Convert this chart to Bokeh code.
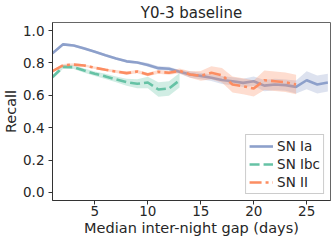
from bokeh.plotting import figure
from bokeh.models import Legend, LegendItem, FixedTicker, Range1d, CustomJSTickFormatter
from bokeh.embed import file_html
from bokeh.resources import INLINE

days = list(range(1, 28))

ia = [0.86, 0.915, 0.908, 0.89, 0.869, 0.848, 0.828, 0.81, 0.803, 0.788, 0.768, 0.764, 0.745,
      0.729, 0.72, 0.708, 0.695, 0.687, 0.677, 0.687, 0.66, 0.667, 0.663, 0.652, 0.693, 0.667, 0.679]
ia_err = [0.008, 0.008, 0.008, 0.008, 0.008, 0.008, 0.008, 0.008, 0.008, 0.012, 0.012, 0.012, 0.012,
          0.02, 0.02, 0.02, 0.025, 0.025, 0.025, 0.03, 0.035, 0.035, 0.035, 0.04, 0.055, 0.055, 0.055]

ibc_days = list(range(1, 14))
ibc = [0.712, 0.776, 0.774, 0.753, 0.733, 0.717, 0.698, 0.681, 0.671, 0.679, 0.636, 0.642, 0.693]
ibc_err = [0.012, 0.012, 0.012, 0.013, 0.014, 0.016, 0.018, 0.022, 0.028, 0.035, 0.045, 0.045, 0.045]

ii_days = list(range(1, 25))
ii = [0.749, 0.786, 0.79, 0.784, 0.77, 0.758, 0.747, 0.737, 0.747, 0.729, 0.745, 0.739, 0.751,
      0.729, 0.72, 0.739, 0.724, 0.667, 0.656, 0.642, 0.693, 0.687, 0.681, 0.667]
ii_err = [0.008, 0.008, 0.008, 0.008, 0.008, 0.008, 0.009, 0.01, 0.01, 0.011, 0.012, 0.012, 0.015,
          0.02, 0.03, 0.04, 0.045, 0.05, 0.05, 0.05, 0.06, 0.06, 0.06, 0.06]

labels = ["SN Ia", "SN Ibc", "SN II"]
colors = ["#8da0cb", "#66c2a5", "#fc8d62"]
x_ticks = [5, 10, 15, 20, 25]
y_ticks = [0.0, 0.2, 0.4, 0.6, 0.8, 1.0]

p = figure(width=333, height=244, output_backend="svg", toolbar_location=None,
           title="Y0-3 baseline", x_range=Range1d(1, 27.25), y_range=Range1d(-0.05, 1.05),
           min_border_left=52, min_border_right=3, min_border_bottom=44, min_border_top=22)
p.title.align = "center"
p.title.text_font = "DejaVu Sans"
p.title.text_font_size = "15px"
p.title.text_font_style = "normal"
p.title.text_color = "#262626"
p.title.standoff = 2

series = [(days, ia, ia_err, "solid"), (ibc_days, ibc, ibc_err, "10 4"), (ii_days, ii, ii_err, "12 4 3 4")]
items = []
for (xs, ys, es, dash), c, lab in zip(series, colors, labels):
    lo = [y - e for y, e in zip(ys, es)]
    hi = [y + e for y, e in zip(ys, es)]
    p.varea(x=xs, y1=lo, y2=hi, fill_color=c, fill_alpha=0.3)
    r = p.line(xs, ys, line_color=c, line_width=2.6, line_dash=dash)
    items.append(LegendItem(label=lab, renderers=[r]))

legend = Legend(items=items, location="bottom_right")
legend.label_text_font = "DejaVu Sans"
legend.label_text_font_size = "13.5px"
legend.label_text_color = "#262626"
legend.label_height = 14
legend.glyph_height = 14
legend.glyph_width = 24
legend.spacing = 2
legend.padding = 3
legend.margin = 6
legend.label_standoff = 4
legend.border_line_color = "#cccccc"
legend.border_line_alpha = 1
legend.background_fill_alpha = 0.8
p.add_layout(legend)

p.xaxis.ticker = FixedTicker(ticks=x_ticks)
p.yaxis.ticker = FixedTicker(ticks=y_ticks)
p.yaxis.formatter = CustomJSTickFormatter(code="return tick.toFixed(1);")
p.xaxis.axis_label = "Median inter-night gap (days)"
p.yaxis.axis_label = "Recall"
for ax in [p.xaxis, p.yaxis]:
    ax.axis_label_text_font = "DejaVu Sans"
    ax.axis_label_text_font_size = "14.5px"
    ax.axis_label_text_font_style = "normal"
    ax.axis_label_text_color = "#262626"
    ax.axis_label_standoff = 1
    ax.major_label_text_font = "DejaVu Sans"
    ax.major_label_text_font_size = "13.5px"
    ax.major_label_text_color = "#262626"
    ax.major_tick_out = 4
    ax.major_tick_in = 0
    ax.minor_tick_line_color = None
    ax.axis_line_color = "#333333"
    ax.major_tick_line_color = "#333333"
p.xaxis.major_label_standoff = 1
p.yaxis.major_label_standoff = 4
p.grid.grid_line_color = None
p.outline_line_color = "#666666"
p.outline_line_alpha = 1

open("out.html", "w").write(file_html(p, INLINE))
